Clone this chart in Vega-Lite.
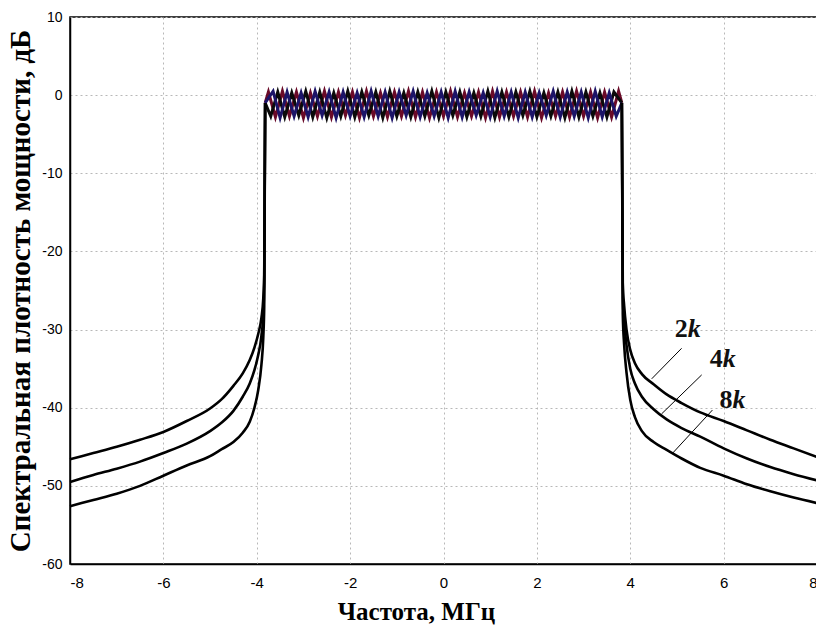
{
  "$schema": "https://vega.github.io/schema/vega-lite/v6.json",
  "width": 747,
  "height": 547,
  "autosize": "none",
  "padding": {"left": 70, "top": 17, "right": -1, "bottom": 66},
  "background": "white",
  "config": {
    "view": {"stroke": "black", "strokeWidth": 1.5},
    "axis": {
      "gridColor": "#b8b8b8",
      "gridDash": [2, 3],
      "gridWidth": 1,
      "domainColor": "black",
      "domainWidth": 1.5,
      "tickSize": 0,
      "labelColor": "black",
      "titleColor": "black",
      "labelFont": "Liberation Sans",
      "titleFont": "Liberation Serif",
      "titleFontWeight": "bold"
    }
  },
  "datasets": {
    "tails": [
      {"s": "2k", "side": "L", "x": -8, "y": -46.6},
      {"s": "2k", "side": "L", "x": -7.5, "y": -45.8},
      {"s": "2k", "side": "L", "x": -7, "y": -45.0},
      {"s": "2k", "side": "L", "x": -6.5, "y": -44.1},
      {"s": "2k", "side": "L", "x": -6, "y": -43.1},
      {"s": "2k", "side": "L", "x": -5.5, "y": -41.7},
      {"s": "2k", "side": "L", "x": -5, "y": -40.1},
      {"s": "2k", "side": "L", "x": -4.75, "y": -38.9},
      {"s": "2k", "side": "L", "x": -4.5, "y": -37.2},
      {"s": "2k", "side": "L", "x": -4.3, "y": -35.6},
      {"s": "2k", "side": "L", "x": -4.15, "y": -33.9},
      {"s": "2k", "side": "L", "x": -4.05, "y": -32.3},
      {"s": "2k", "side": "L", "x": -3.97, "y": -30.6},
      {"s": "2k", "side": "L", "x": -3.9, "y": -28.5},
      {"s": "2k", "side": "L", "x": -3.86, "y": -26},
      {"s": "2k", "side": "L", "x": -3.84, "y": -23},
      {"s": "2k", "side": "L", "x": -3.82, "y": -1},
      {"s": "4k", "side": "L", "x": -8, "y": -49.5},
      {"s": "4k", "side": "L", "x": -7.5, "y": -48.6},
      {"s": "4k", "side": "L", "x": -7, "y": -47.8},
      {"s": "4k", "side": "L", "x": -6.5, "y": -46.9},
      {"s": "4k", "side": "L", "x": -6, "y": -45.8},
      {"s": "4k", "side": "L", "x": -5.5, "y": -44.6},
      {"s": "4k", "side": "L", "x": -5, "y": -43.0},
      {"s": "4k", "side": "L", "x": -4.75, "y": -41.9},
      {"s": "4k", "side": "L", "x": -4.5, "y": -40.4},
      {"s": "4k", "side": "L", "x": -4.3, "y": -38.6},
      {"s": "4k", "side": "L", "x": -4.15, "y": -36.9},
      {"s": "4k", "side": "L", "x": -4.05, "y": -35.2},
      {"s": "4k", "side": "L", "x": -3.97, "y": -33.3},
      {"s": "4k", "side": "L", "x": -3.9, "y": -30.8},
      {"s": "4k", "side": "L", "x": -3.86, "y": -28},
      {"s": "4k", "side": "L", "x": -3.84, "y": -24},
      {"s": "4k", "side": "L", "x": -3.82, "y": -1},
      {"s": "8k", "side": "L", "x": -8, "y": -52.6},
      {"s": "8k", "side": "L", "x": -7.5, "y": -51.8},
      {"s": "8k", "side": "L", "x": -7, "y": -51.0},
      {"s": "8k", "side": "L", "x": -6.5, "y": -50.0},
      {"s": "8k", "side": "L", "x": -6, "y": -48.7},
      {"s": "8k", "side": "L", "x": -5.5, "y": -47.4},
      {"s": "8k", "side": "L", "x": -5, "y": -46.2},
      {"s": "8k", "side": "L", "x": -4.75, "y": -45.3},
      {"s": "8k", "side": "L", "x": -4.5, "y": -44.4},
      {"s": "8k", "side": "L", "x": -4.3, "y": -43.2},
      {"s": "8k", "side": "L", "x": -4.15, "y": -41.8},
      {"s": "8k", "side": "L", "x": -4.05, "y": -40.0},
      {"s": "8k", "side": "L", "x": -3.97, "y": -37.8},
      {"s": "8k", "side": "L", "x": -3.9, "y": -34.5},
      {"s": "8k", "side": "L", "x": -3.86, "y": -31},
      {"s": "8k", "side": "L", "x": -3.84, "y": -27},
      {"s": "8k", "side": "L", "x": -3.82, "y": -1},
      {"s": "2k", "side": "R", "x": 3.82, "y": -1},
      {"s": "2k", "side": "R", "x": 3.84, "y": -24},
      {"s": "2k", "side": "R", "x": 3.87, "y": -27},
      {"s": "2k", "side": "R", "x": 3.92, "y": -30},
      {"s": "2k", "side": "R", "x": 4.0, "y": -32.6},
      {"s": "2k", "side": "R", "x": 4.1, "y": -34.3},
      {"s": "2k", "side": "R", "x": 4.25, "y": -35.7},
      {"s": "2k", "side": "R", "x": 4.5, "y": -37.0},
      {"s": "2k", "side": "R", "x": 4.78, "y": -38.3},
      {"s": "2k", "side": "R", "x": 5.1, "y": -39.4},
      {"s": "2k", "side": "R", "x": 5.5, "y": -40.6},
      {"s": "2k", "side": "R", "x": 6, "y": -41.7},
      {"s": "2k", "side": "R", "x": 6.5, "y": -42.9},
      {"s": "2k", "side": "R", "x": 7, "y": -44.1},
      {"s": "2k", "side": "R", "x": 7.5, "y": -45.2},
      {"s": "2k", "side": "R", "x": 8, "y": -46.3},
      {"s": "4k", "side": "R", "x": 3.82, "y": -1},
      {"s": "4k", "side": "R", "x": 3.84, "y": -26},
      {"s": "4k", "side": "R", "x": 3.87, "y": -29},
      {"s": "4k", "side": "R", "x": 3.92, "y": -32},
      {"s": "4k", "side": "R", "x": 4.0, "y": -35.0},
      {"s": "4k", "side": "R", "x": 4.1, "y": -36.9},
      {"s": "4k", "side": "R", "x": 4.25, "y": -38.6},
      {"s": "4k", "side": "R", "x": 4.5, "y": -40.2},
      {"s": "4k", "side": "R", "x": 4.78, "y": -41.5},
      {"s": "4k", "side": "R", "x": 5.1, "y": -42.6},
      {"s": "4k", "side": "R", "x": 5.5, "y": -43.7},
      {"s": "4k", "side": "R", "x": 6, "y": -45.2},
      {"s": "4k", "side": "R", "x": 6.5, "y": -46.5},
      {"s": "4k", "side": "R", "x": 7, "y": -47.6},
      {"s": "4k", "side": "R", "x": 7.5, "y": -48.5},
      {"s": "4k", "side": "R", "x": 8, "y": -49.3},
      {"s": "8k", "side": "R", "x": 3.82, "y": -1},
      {"s": "8k", "side": "R", "x": 3.84, "y": -28},
      {"s": "8k", "side": "R", "x": 3.87, "y": -32},
      {"s": "8k", "side": "R", "x": 3.92, "y": -35.5},
      {"s": "8k", "side": "R", "x": 4.0, "y": -39.0},
      {"s": "8k", "side": "R", "x": 4.1, "y": -41.2},
      {"s": "8k", "side": "R", "x": 4.25, "y": -43.0},
      {"s": "8k", "side": "R", "x": 4.5, "y": -44.4},
      {"s": "8k", "side": "R", "x": 4.78, "y": -45.4},
      {"s": "8k", "side": "R", "x": 5.1, "y": -46.5},
      {"s": "8k", "side": "R", "x": 5.5, "y": -47.7},
      {"s": "8k", "side": "R", "x": 6, "y": -48.7},
      {"s": "8k", "side": "R", "x": 6.5, "y": -49.8},
      {"s": "8k", "side": "R", "x": 7, "y": -50.7},
      {"s": "8k", "side": "R", "x": 7.5, "y": -51.5},
      {"s": "8k", "side": "R", "x": 8, "y": -52.2}
    ],
    "band": [
      {"s": "2k", "x": -3.82, "y": -1},
      {"s": "2k", "x": -3.75, "y": 0.4},
      {"s": "2k", "x": -3.6, "y": -2.8},
      {"s": "2k", "x": -3.45, "y": 0.5},
      {"s": "2k", "x": -3.3, "y": -2.7},
      {"s": "2k", "x": -3.15, "y": 0.4},
      {"s": "2k", "x": -3.0, "y": -2.9},
      {"s": "2k", "x": -2.85, "y": 0.3},
      {"s": "2k", "x": -2.7, "y": -2.7},
      {"s": "2k", "x": -2.55, "y": 0.5},
      {"s": "2k", "x": -2.4, "y": -2.8},
      {"s": "2k", "x": -2.25, "y": 0.4},
      {"s": "2k", "x": -2.1, "y": -2.6},
      {"s": "2k", "x": -1.95, "y": 0.4},
      {"s": "2k", "x": -1.8, "y": -2.9},
      {"s": "2k", "x": -1.65, "y": 0.5},
      {"s": "2k", "x": -1.5, "y": -2.7},
      {"s": "2k", "x": -1.35, "y": 0.3},
      {"s": "2k", "x": -1.2, "y": -2.8},
      {"s": "2k", "x": -1.05, "y": 0.4},
      {"s": "2k", "x": -0.9, "y": -2.7},
      {"s": "2k", "x": -0.75, "y": 0.5},
      {"s": "2k", "x": -0.6, "y": -2.8},
      {"s": "2k", "x": -0.45, "y": 0.4},
      {"s": "2k", "x": -0.3, "y": -2.9},
      {"s": "2k", "x": -0.15, "y": 0.4},
      {"s": "2k", "x": 0, "y": -2.7},
      {"s": "2k", "x": 0.15, "y": 0.5},
      {"s": "2k", "x": 0.3, "y": -2.8},
      {"s": "2k", "x": 0.45, "y": 0.3},
      {"s": "2k", "x": 0.6, "y": -2.7},
      {"s": "2k", "x": 0.75, "y": 0.4},
      {"s": "2k", "x": 0.9, "y": -2.9},
      {"s": "2k", "x": 1.05, "y": 0.5},
      {"s": "2k", "x": 1.2, "y": -2.8},
      {"s": "2k", "x": 1.35, "y": 0.4},
      {"s": "2k", "x": 1.5, "y": -2.7},
      {"s": "2k", "x": 1.65, "y": 0.4},
      {"s": "2k", "x": 1.8, "y": -2.8},
      {"s": "2k", "x": 1.95, "y": 0.5},
      {"s": "2k", "x": 2.1, "y": -2.9},
      {"s": "2k", "x": 2.25, "y": 0.3},
      {"s": "2k", "x": 2.4, "y": -2.7},
      {"s": "2k", "x": 2.55, "y": 0.4},
      {"s": "2k", "x": 2.7, "y": -2.8},
      {"s": "2k", "x": 2.85, "y": 0.5},
      {"s": "2k", "x": 3.0, "y": -2.7},
      {"s": "2k", "x": 3.15, "y": 0.4},
      {"s": "2k", "x": 3.3, "y": -2.9},
      {"s": "2k", "x": 3.45, "y": 0.4},
      {"s": "2k", "x": 3.6, "y": -2.8},
      {"s": "2k", "x": 3.75, "y": 0.5},
      {"s": "2k", "x": 3.82, "y": -1},
      {"s": "4k", "x": -3.82, "y": -1},
      {"s": "4k", "x": -3.7, "y": -2.7},
      {"s": "4k", "x": -3.55, "y": 0.4},
      {"s": "4k", "x": -3.4, "y": -2.8},
      {"s": "4k", "x": -3.25, "y": 0.3},
      {"s": "4k", "x": -3.1, "y": -2.6},
      {"s": "4k", "x": -2.95, "y": 0.5},
      {"s": "4k", "x": -2.8, "y": -2.8},
      {"s": "4k", "x": -2.65, "y": 0.4},
      {"s": "4k", "x": -2.5, "y": -2.9},
      {"s": "4k", "x": -2.35, "y": 0.3},
      {"s": "4k", "x": -2.2, "y": -2.7},
      {"s": "4k", "x": -2.05, "y": 0.5},
      {"s": "4k", "x": -1.9, "y": -2.8},
      {"s": "4k", "x": -1.75, "y": 0.4},
      {"s": "4k", "x": -1.6, "y": -2.6},
      {"s": "4k", "x": -1.45, "y": 0.4},
      {"s": "4k", "x": -1.3, "y": -2.9},
      {"s": "4k", "x": -1.15, "y": 0.5},
      {"s": "4k", "x": -1.0, "y": -2.7},
      {"s": "4k", "x": -0.85, "y": 0.3},
      {"s": "4k", "x": -0.7, "y": -2.8},
      {"s": "4k", "x": -0.55, "y": 0.4},
      {"s": "4k", "x": -0.4, "y": -2.7},
      {"s": "4k", "x": -0.25, "y": 0.5},
      {"s": "4k", "x": -0.1, "y": -2.9},
      {"s": "4k", "x": 0.05, "y": 0.4},
      {"s": "4k", "x": 0.2, "y": -2.6},
      {"s": "4k", "x": 0.35, "y": 0.4},
      {"s": "4k", "x": 0.5, "y": -2.8},
      {"s": "4k", "x": 0.65, "y": 0.3},
      {"s": "4k", "x": 0.8, "y": -2.7},
      {"s": "4k", "x": 0.95, "y": 0.5},
      {"s": "4k", "x": 1.1, "y": -2.9},
      {"s": "4k", "x": 1.25, "y": 0.4},
      {"s": "4k", "x": 1.4, "y": -2.8},
      {"s": "4k", "x": 1.55, "y": 0.4},
      {"s": "4k", "x": 1.7, "y": -2.6},
      {"s": "4k", "x": 1.85, "y": 0.5},
      {"s": "4k", "x": 2.0, "y": -2.8},
      {"s": "4k", "x": 2.15, "y": 0.3},
      {"s": "4k", "x": 2.3, "y": -2.7},
      {"s": "4k", "x": 2.45, "y": 0.4},
      {"s": "4k", "x": 2.6, "y": -2.9},
      {"s": "4k", "x": 2.75, "y": 0.5},
      {"s": "4k", "x": 2.9, "y": -2.8},
      {"s": "4k", "x": 3.05, "y": 0.4},
      {"s": "4k", "x": 3.2, "y": -2.7},
      {"s": "4k", "x": 3.35, "y": 0.3},
      {"s": "4k", "x": 3.5, "y": -2.8},
      {"s": "4k", "x": 3.65, "y": 0.4},
      {"s": "4k", "x": 3.82, "y": -1},
      {"s": "8k", "x": -3.82, "y": -1},
      {"s": "8k", "x": -3.65, "y": 0.5},
      {"s": "8k", "x": -3.5, "y": -2.9},
      {"s": "8k", "x": -3.35, "y": 0.4},
      {"s": "8k", "x": -3.2, "y": -2.7},
      {"s": "8k", "x": -3.05, "y": 0.3},
      {"s": "8k", "x": -2.9, "y": -2.8},
      {"s": "8k", "x": -2.75, "y": 0.5},
      {"s": "8k", "x": -2.6, "y": -2.6},
      {"s": "8k", "x": -2.45, "y": 0.4},
      {"s": "8k", "x": -2.3, "y": -2.9},
      {"s": "8k", "x": -2.15, "y": 0.4},
      {"s": "8k", "x": -2.0, "y": -2.7},
      {"s": "8k", "x": -1.85, "y": 0.3},
      {"s": "8k", "x": -1.7, "y": -2.8},
      {"s": "8k", "x": -1.55, "y": 0.5},
      {"s": "8k", "x": -1.4, "y": -2.7},
      {"s": "8k", "x": -1.25, "y": 0.4},
      {"s": "8k", "x": -1.1, "y": -2.9},
      {"s": "8k", "x": -0.95, "y": 0.4},
      {"s": "8k", "x": -0.8, "y": -2.6},
      {"s": "8k", "x": -0.65, "y": 0.5},
      {"s": "8k", "x": -0.5, "y": -2.8},
      {"s": "8k", "x": -0.35, "y": 0.3},
      {"s": "8k", "x": -0.2, "y": -2.7},
      {"s": "8k", "x": -0.05, "y": 0.4},
      {"s": "8k", "x": 0.1, "y": -2.9},
      {"s": "8k", "x": 0.25, "y": 0.5},
      {"s": "8k", "x": 0.4, "y": -2.8},
      {"s": "8k", "x": 0.55, "y": 0.4},
      {"s": "8k", "x": 0.7, "y": -2.6},
      {"s": "8k", "x": 0.85, "y": 0.3},
      {"s": "8k", "x": 1.0, "y": -2.8},
      {"s": "8k", "x": 1.15, "y": 0.5},
      {"s": "8k", "x": 1.3, "y": -2.7},
      {"s": "8k", "x": 1.45, "y": 0.4},
      {"s": "8k", "x": 1.6, "y": -2.9},
      {"s": "8k", "x": 1.75, "y": 0.4},
      {"s": "8k", "x": 1.9, "y": -2.8},
      {"s": "8k", "x": 2.05, "y": 0.3},
      {"s": "8k", "x": 2.2, "y": -2.6},
      {"s": "8k", "x": 2.35, "y": 0.5},
      {"s": "8k", "x": 2.5, "y": -2.8},
      {"s": "8k", "x": 2.65, "y": 0.4},
      {"s": "8k", "x": 2.8, "y": -2.7},
      {"s": "8k", "x": 2.95, "y": 0.4},
      {"s": "8k", "x": 3.1, "y": -2.9},
      {"s": "8k", "x": 3.25, "y": 0.5},
      {"s": "8k", "x": 3.4, "y": -2.8},
      {"s": "8k", "x": 3.55, "y": 0.3},
      {"s": "8k", "x": 3.7, "y": -2.7},
      {"s": "8k", "x": 3.82, "y": -1}
    ],
    "labels": [
      {"s": "2k", "num": "2", "x": 5.23, "y": -31.0, "x1": 5.10, "y1": -32.4, "x2": 4.46, "y2": -36.3},
      {"s": "4k", "num": "4", "x": 5.98, "y": -34.8, "x1": 5.53, "y1": -35.8, "x2": 4.67, "y2": -40.8},
      {"s": "8k", "num": "8", "x": 6.19, "y": -40.0, "x1": 5.76, "y1": -40.3, "x2": 4.91, "y2": -45.8}
    ]
  },
  "layer": [
    {
      "data": {"name": "band"},
      "mark": {"type": "line", "strokeWidth": 3, "opacity": 1},
      "encoding": {
        "x": {
          "field": "x", "type": "quantitative",
          "scale": {"domain": [-8, 8], "nice": false, "zero": false},
          "axis": {
            "values": [-8, -6, -4, -2, 0, 2, 4, 6, 8],
            "labelExpr": "datum.value + ''",
            "labelFontSize": 15,
            "labelFont": "Liberation Sans Narrow, Liberation Sans",
            "labelPadding": 11,
            "title": "Частота, МГц",
            "titleFontSize": 25,
            "titleX": 346,
            "titlePadding": 9
          }
        },
        "y": {
          "field": "y", "type": "quantitative",
          "scale": {"domain": [-60, 10], "nice": false, "zero": false},
          "axis": {
            "values": [-60, -50, -40, -30, -20, -10, 0, 10],
            "labelExpr": "datum.value + ''",
            "labelFontSize": 14,
            "labelPadding": 8,
            "title": "Спектральная плотность мощности, дБ",
            "titleFontSize": 29,
            "titlePadding": 6
          }
        },
        "color": {
          "field": "s", "type": "nominal",
          "scale": {"domain": ["2k", "4k", "8k"], "range": ["#6a0a28", "#0a0a0a", "#1c1468"]},
          "legend": null
        }
      }
    },
    {
      "data": {"name": "tails"},
      "mark": {"type": "line", "strokeWidth": 2.6, "color": "black", "interpolate": "monotone"},
      "encoding": {
        "x": {"field": "x", "type": "quantitative"},
        "y": {"field": "y", "type": "quantitative"},
        "detail": [{"field": "s"}, {"field": "side"}]
      }
    },
    {
      "data": {"name": "labels"},
      "mark": {"type": "rule", "color": "black", "strokeWidth": 1},
      "encoding": {
        "x": {"field": "x1", "type": "quantitative"},
        "y": {"field": "y1", "type": "quantitative"},
        "x2": {"field": "x2"},
        "y2": {"field": "y2"}
      }
    },
    {
      "data": {"name": "labels"},
      "mark": {"type": "text", "align": "right", "baseline": "alphabetic", "font": "Liberation Serif", "fontWeight": "bold", "fontSize": 26, "color": "#111"},
      "encoding": {
        "x": {"field": "x", "type": "quantitative"},
        "y": {"field": "y", "type": "quantitative"},
        "text": {"field": "num"}
      }
    },
    {
      "data": {"name": "labels"},
      "mark": {"type": "text", "align": "left", "baseline": "alphabetic", "font": "Liberation Serif", "fontWeight": "bold", "fontStyle": "italic", "fontSize": 26, "color": "#111"},
      "encoding": {
        "x": {"field": "x", "type": "quantitative"},
        "y": {"field": "y", "type": "quantitative"},
        "text": {"value": "k"}
      }
    }
  ]
}
